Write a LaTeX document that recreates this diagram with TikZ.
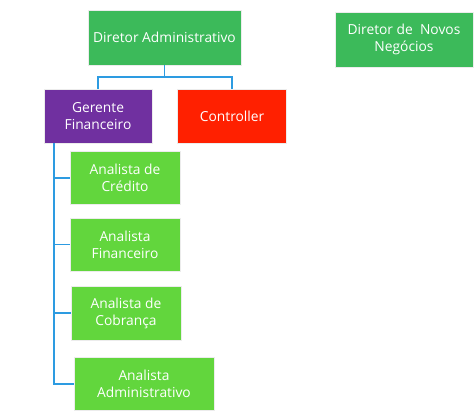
\documentclass[tikz,border=0pt]{standalone}
\usepackage{fontspec}
\setmainfont{Open Sans}
\usetikzlibrary{positioning}
\definecolor{verdedir}{RGB}{60,186,90}
\definecolor{verdeana}{RGB}{98,214,61}
\definecolor{roxo}{RGB}{112,48,160}
\definecolor{vermelho}{RGB}{255,32,0}
\definecolor{linha}{RGB}{45,155,225}

\begin{document}
\begin{tikzpicture}[x=1pt, y=-1pt, every node/.style={draw=gray!15, line width=0.6pt, text=white, align=center, inner sep=2pt, font=\fontsize{13.8}{17}\selectfont}, cargo/.style={minimum width=109pt, minimum height=54pt}, analista/.style={fill=verdeana, minimum width=110pt, minimum height=53pt}, link/.style={draw=linha, line width=1.6pt}]
\useasboundingbox (0,0) rectangle (475,412);
\node[fill=verdedir, minimum width=153pt, minimum height=55pt] (diradm) at (164.5,37.5) {Diretor Administrativo};
\node[fill=verdedir, minimum width=138pt, minimum height=55pt] (dirnovos) at (404,39.5) {Diretor de~~Novos\\Negócios};
\node[cargo, fill=roxo, minimum width=108pt] (gerfin) at (98,116) {Gerente\\Financeiro};
\node[cargo, fill=vermelho, right=25pt of gerfin] (controller) {Controller};
\node[analista, below right=8pt and 26pt of gerfin.south west] (credito) {Analista de\\Crédito};
\node[analista, below right=13pt and 0pt of credito.south west] (financeiro) {Analista\\Financeiro};
\node[analista, below right=15pt and 1pt of financeiro.south west] (cobranca) {Analista de\\Cobrança};
\node[analista, minimum width=140pt, below right=17pt and 3pt of cobranca.south west] (administrativo) {Analista\\Administrativo};
\coordinate (tronco) at ([xshift=10pt]gerfin.south west);
\draw[link] (diradm.south) -- ++(0,12) -| (gerfin.north);
\draw[link] (diradm.south) ++(0,12) -| (controller.north);
\draw[link] (tronco) |- (administrativo.west);
\draw[link] (credito.west -| tronco) -- (credito.west);
\draw[link] (financeiro.west -| tronco) -- (financeiro.west);
\draw[link] (cobranca.west -| tronco) -- (cobranca.west);
\end{tikzpicture}
\end{document}
